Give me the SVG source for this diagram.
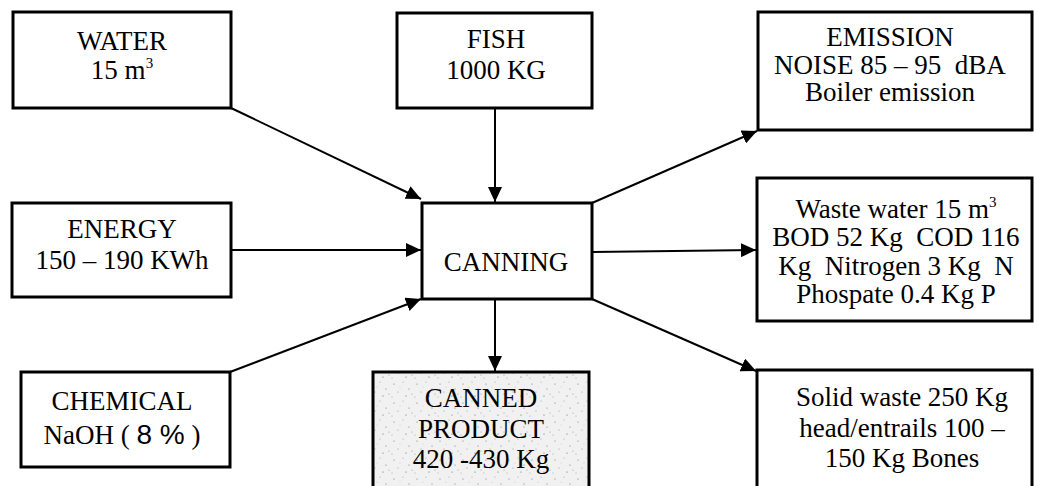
<svg xmlns="http://www.w3.org/2000/svg" width="1037" height="486" viewBox="0 0 1037 486">
<style>
.box{fill:#fff;stroke:#000;stroke-width:3}
.prod{fill:url(#stip);stroke:#000;stroke-width:3}
.t{font-family:"Liberation Serif","Times New Roman",serif;font-size:27px;fill:#000;text-anchor:middle;white-space:pre}
.c{stroke:#000;stroke-width:2;fill:none;marker-end:url(#ah)}
.sup{font-size:15px}
</style>
<defs>
<marker id="ah" markerUnits="userSpaceOnUse" markerWidth="16" markerHeight="14" refX="15" refY="7" orient="auto">
<path d="M0,0 L15,7 L0,14 z" fill="#000"/>
</marker>
<pattern id="stip" patternUnits="userSpaceOnUse" width="23" height="19">
<rect width="23" height="19" fill="#f1f1f1"/>
<circle cx="3" cy="4" r="0.6" fill="#777"/>
<circle cx="12" cy="2" r="0.5" fill="#999"/>
<circle cx="18" cy="9" r="0.6" fill="#777"/>
<circle cx="7" cy="12" r="0.5" fill="#888"/>
<circle cx="15" cy="16" r="0.6" fill="#666"/>
<circle cx="1" cy="17" r="0.5" fill="#999"/>
<circle cx="21" cy="14" r="0.5" fill="#888"/>
<circle cx="9" cy="7" r="0.4" fill="#aaa"/>
</pattern>
</defs>

<g id="connectors">
<line class="c" x1="231" y1="108" x2="421" y2="199"/>
<line class="c" x1="495" y1="108" x2="495" y2="202"/>
<line class="c" x1="231" y1="250" x2="421" y2="250"/>
<line class="c" x1="230" y1="372" x2="421" y2="299"/>
<line class="c" x1="592" y1="203" x2="757" y2="131"/>
<line class="c" x1="592" y1="252" x2="756" y2="250"/>
<line class="c" x1="592" y1="299" x2="756" y2="371"/>
<line class="c" x1="495" y1="299" x2="495" y2="371"/>
</g>

<g id="water">
<rect class="box" x="13" y="12" width="218" height="96"/>
<text class="t" x="122" y="50">WATER</text>
<text class="t" x="122" y="79">15 m<tspan class="sup" dy="-11">3</tspan></text>
</g>

<g id="fish">
<rect class="box" x="397" y="13" width="195" height="95"/>
<text class="t" x="496" y="48">FISH</text>
<text class="t" x="496" y="79">1000 KG</text>
</g>

<g id="energy">
<rect class="box" x="12" y="203" width="219" height="94"/>
<text class="t" x="122" y="238">ENERGY</text>
<text class="t" x="122" y="269">150 – 190 KWh</text>
</g>

<g id="chemical">
<rect class="box" x="21" y="372" width="209" height="95"/>
<text class="t" x="122" y="410">CHEMICAL</text>
<text class="t" x="122" y="444">NaOH ( <tspan style="font-family:'Liberation Sans',Arial,sans-serif;font-size:28px">8 %</tspan> )</text>
</g>

<g id="canning">
<rect class="box" x="422" y="203" width="170" height="96"/>
<text class="t" x="506" y="271">CANNING</text>
</g>

<g id="canned">
<rect class="prod" x="373" y="372" width="216" height="130"/>
<text class="t" x="481" y="407">CANNED</text>
<text class="t" x="481" y="438">PRODUCT</text>
<text class="t" x="481" y="468">420 -430 Kg</text>
</g>

<g id="emission">
<rect class="box" x="758" y="12" width="274" height="118"/>
<text class="t" x="890" y="46">EMISSION</text>
<text class="t" x="890" y="74">NOISE 85 – 95  dBA</text>
<text class="t" x="890" y="101">Boiler emission</text>
</g>

<g id="wastewater">
<rect class="box" x="757" y="178" width="275" height="143"/>
<text class="t" x="896" y="218">Waste water 15 m<tspan class="sup" dy="-11">3</tspan></text>
<text class="t" x="896" y="246">BOD 52 Kg  COD 116</text>
<text class="t" x="896" y="275">Kg  Nitrogen 3 Kg  N</text>
<text class="t" x="896" y="303">Phospate 0.4 Kg P</text>
</g>

<g id="solidwaste">
<rect class="box" x="757" y="370" width="275" height="130"/>
<text class="t" x="902" y="406">Solid waste 250 Kg</text>
<text class="t" x="902" y="437">head/entrails 100 –</text>
<text class="t" x="902" y="467">150 Kg Bones</text>
</g>
</svg>
